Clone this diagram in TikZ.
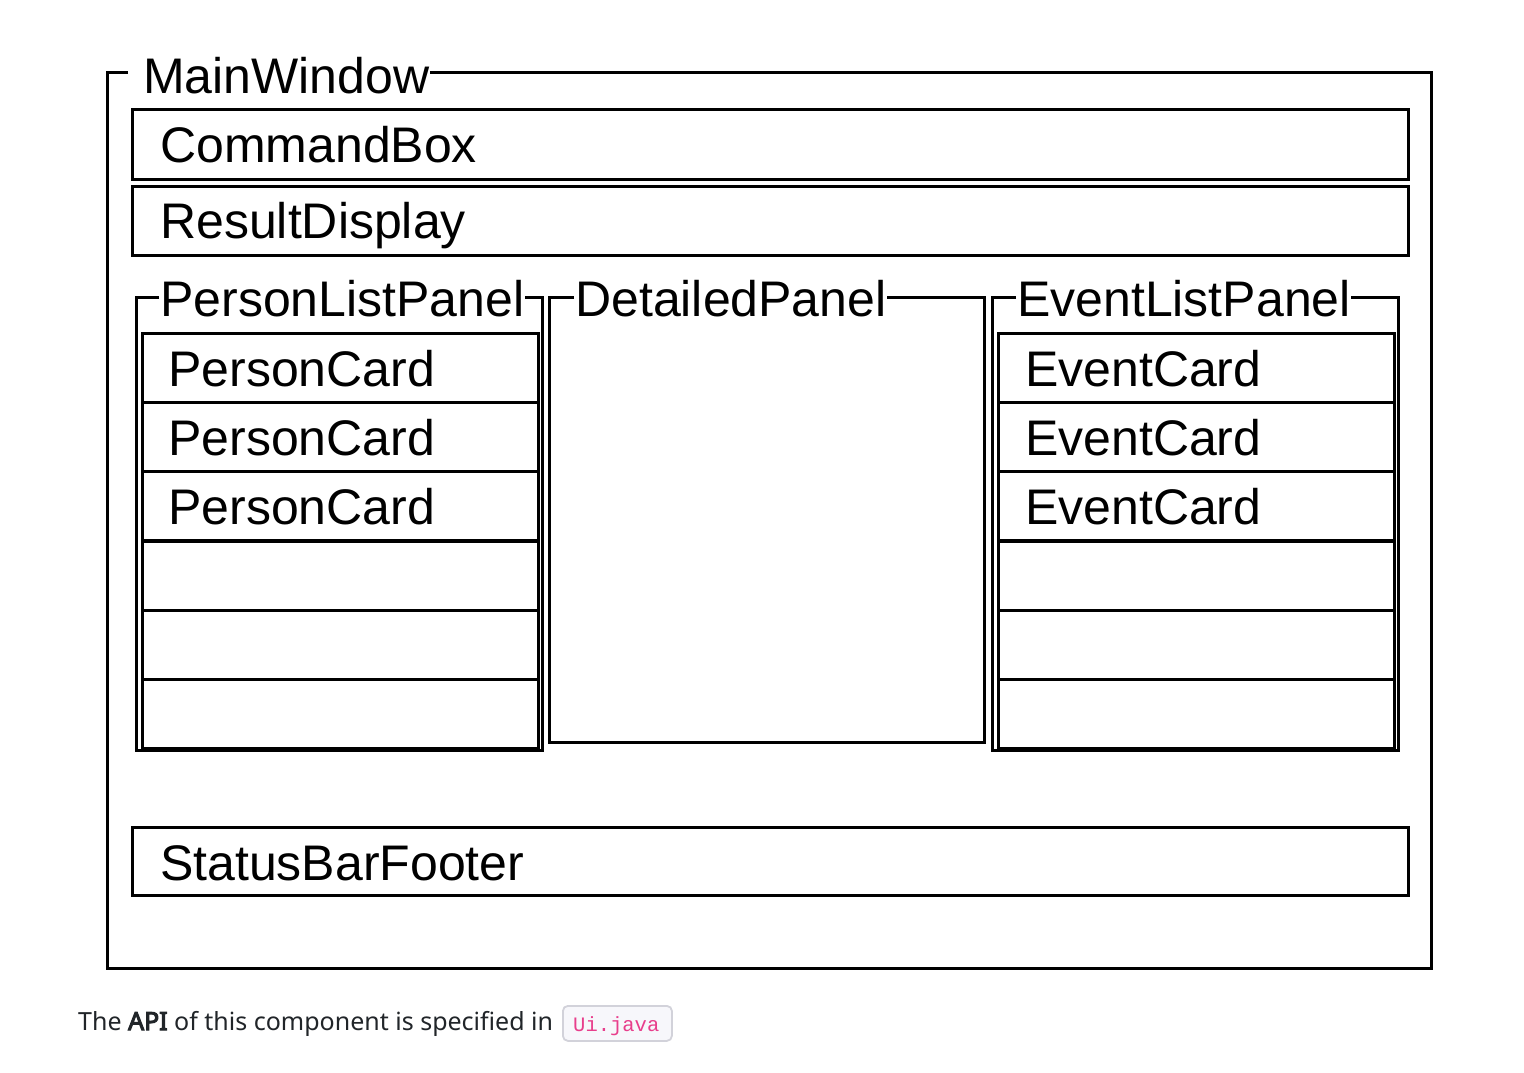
\documentclass[tikz,border=0pt]{standalone}
\usepackage{fontspec}
\setmainfont{Liberation Sans}
\newfontfamily\uifont{Noto Sans}
\newfontfamily\uifontbold{Noto Sans}[FakeBold=4]
\newfontfamily\codefont{Liberation Mono}
\definecolor{codepink}{HTML}{E83E8C}
\definecolor{codebg}{HTML}{F7F7FB}
\definecolor{codeborder}{HTML}{D2D2DA}
\definecolor{uitext}{HTML}{212529}
\begin{document}
\begin{tikzpicture}[x=1pt,y=-1pt,
  winframe/.style={draw=black, line width=3pt, line join=miter},
  boxr/.style={draw=black, line width=3pt, inner sep=0pt, anchor=north west},
  lbl/.style={anchor=base west, inner sep=0pt, font=\fontsize{50}{50}\selectfont},
  cardtxt/.style={anchor=base west, inner sep=0pt, font=\fontsize{50}{50}\selectfont}]
\useasboundingbox[fill=white] (0,0) rectangle (1524,1073);

% MainWindow frame
\node[lbl] (mwt) at (143,93) {MainWindow};
\coordinate (mwa) at (128,73);
\draw[winframe] (mwa) -- (107,73) -- (107,968) -- (1431,968) -- (1431,73) -- (mwt.east |- mwa);

% CommandBox and ResultDisplay
\node[boxr, minimum width=1276pt, minimum height=70pt] (cmd) at (131,108) {};
\node[lbl] (cmdt) at (160,162) {CommandBox};
\node[boxr, minimum width=1276pt, minimum height=69pt] (res) at (131,185) {};
\node[lbl] (rest) at (160,238) {ResultDisplay};

% PersonListPanel
\node[lbl] (plt) at (160,316) {PersonListPanel};
\coordinate (pla) at (159,297);
\draw[winframe] (pla) -- (136,297) -- (136,750) -- (542,750) -- (542,297) -- (plt.east |- pla);
\foreach \i/\y in {1/332,2/401,3/470,4/540,5/609,6/678}{
  \node[boxr, minimum width=396pt, minimum height=69pt] (pc\i) at (141,\y) {};
}
\node[cardtxt] (pct1) at (168,386) {PersonCard};
\node[cardtxt] (pct2) at (168,455) {PersonCard};
\node[cardtxt] (pct3) at (168,524) {PersonCard};

% DetailedPanel
\node[lbl] (dpt) at (575,316) {DetailedPanel};
\coordinate (dpa) at (574,297);
\draw[winframe] (dpa) -- (549,297) -- (549,742) -- (984,742) -- (984,297) -- (dpt.east |- dpa);

% EventListPanel
\node[lbl] (elt) at (1017,316) {EventListPanel};
\coordinate (ela) at (1016,297);
\draw[winframe] (ela) -- (992,297) -- (992,750) -- (1398,750) -- (1398,297) -- (elt.east |- ela);
\foreach \i/\y in {1/332,2/401,3/470,4/540,5/609,6/678}{
  \node[boxr, minimum width=396pt, minimum height=69pt] (ec\i) at (997,\y) {};
}
\node[cardtxt] (ect1) at (1025,386) {EventCard};
\node[cardtxt] (ect2) at (1025,455) {EventCard};
\node[cardtxt] (ect3) at (1025,524) {EventCard};

% StatusBarFooter
\node[boxr, minimum width=1276pt, minimum height=68pt] (sbf) at (131,826) {};
\node[lbl] (sbft) at (160,880) {StatusBarFooter};

% caption below
\node[anchor=base west, inner sep=0pt, text=uitext, font=\uifont\fontsize{25}{25}\selectfont] (cap) at (78,1030)
  {The {\uifontbold API} of this component is specified in};
\node[draw=codeborder, line width=1.8pt, fill=codebg, rounded corners=5pt, anchor=north west,
  minimum width=109pt, minimum height=35pt, inner sep=0pt] (codebox) at (562,1005) {};
\node[anchor=base west, inner sep=0pt, text=codepink, font=\codefont\fontsize{20.5}{20.5}\selectfont] (code) at (573,1031) {Ui.java};
\end{tikzpicture}
\end{document}
